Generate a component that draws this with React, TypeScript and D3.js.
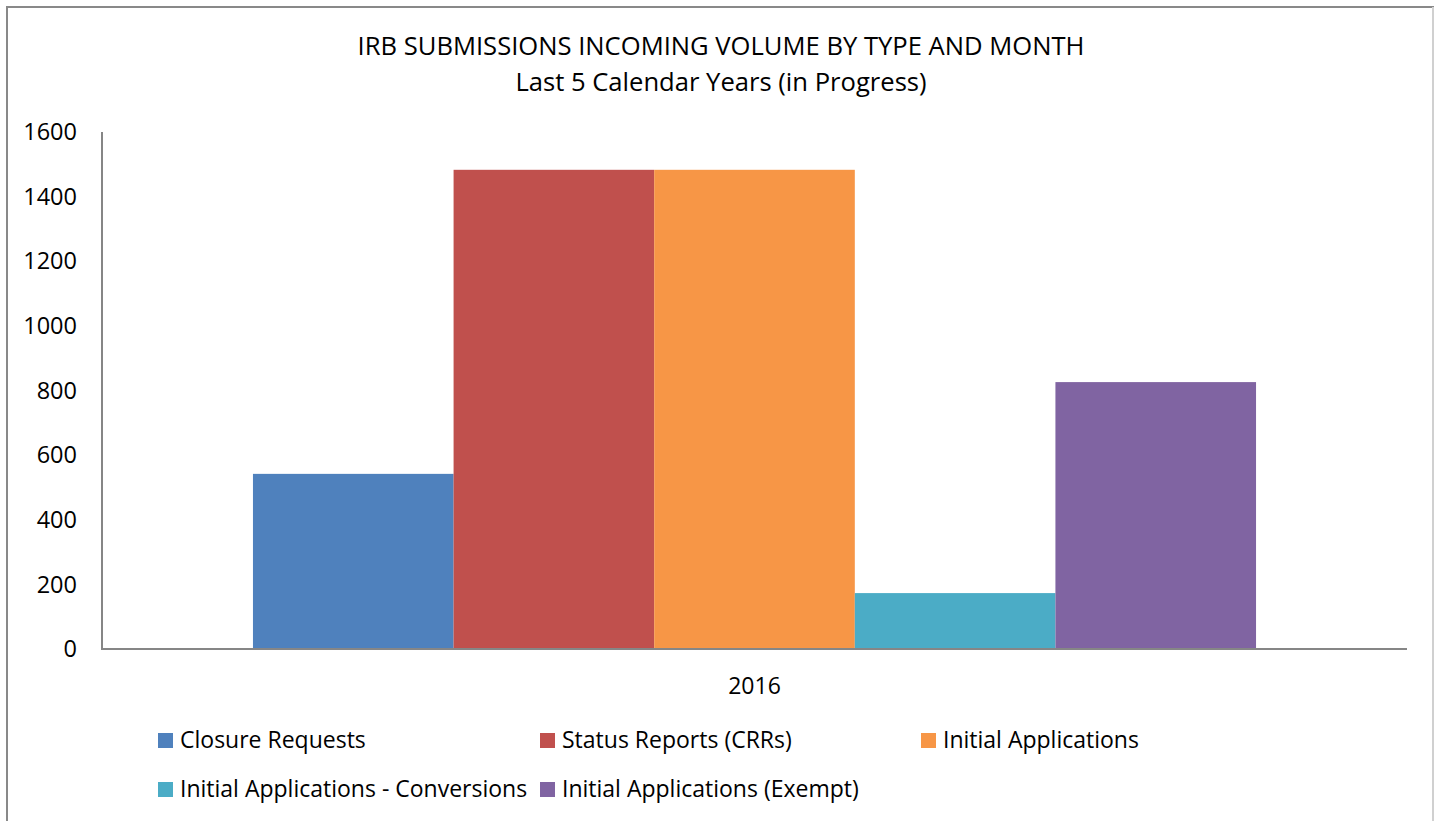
import React from "react";
import * as d3 from "d3";

const categories = ["2016"];
const seriesNames = [
  "Closure Requests",
  "Status Reports (CRRs)",
  "Initial Applications",
  "Initial Applications - Conversions",
  "Initial Applications (Exempt)",
];
const seriesValues = [542, 1483, 1483, 173, 826];
const seriesColors = ["#4F81BD", "#C0504D", "#F79646", "#4BACC6", "#8064A2"];
const yTicks = [0, 200, 400, 600, 800, 1000, 1200, 1400, 1600];
const titleLines = [
  "IRB SUBMISSIONS INCOMING VOLUME BY TYPE AND MONTH",
  "Last 5 Calendar Years (in Progress)",
];

const W = 1435;
const H = 821;
const margin = { top: 132, right: 28, bottom: 172, left: 102 };
const FONT = "'Open Sans', sans-serif";

const App = () => {
  const innerW = W - margin.left - margin.right;
  const innerH = H - margin.top - margin.bottom;

  // category band, with excel-style gap (150%) split on both sides
  const x0 = d3.scaleBand().domain(categories).range([0, innerW]).paddingOuter(0.1505).paddingInner(0);
  const x1 = d3.scaleBand().domain(seriesNames).range([0, x0.bandwidth()]);
  const y = d3.scaleLinear().domain([0, 1600]).range([innerH, 0]);

  const legendCols = [158, 540, 921];
  const legendRows = [748, 797];

  return (
    <svg
      width={W}
      height={H}
      style={{ position: "fixed", left: 0, top: 0, background: "#fff" }}
      fontFamily={FONT}
    >
      <rect x={7} y={7} width={1426} height={820} fill="#fff" stroke="#898989" strokeWidth={2} />
      <line x1={1433} x2={1433} y1={7} y2={H} stroke="#d0d0d0" strokeWidth={2} />

      {titleLines.map((t, i) => (
        <text key={t} x={721} y={55 + i * 36} textAnchor="middle" fontSize={25.6} fill="#000">
          {t}
        </text>
      ))}

      <g transform={`translate(${margin.left},${margin.top})`}>
        {categories.map((c) => (
          <g key={c} transform={`translate(${x0(c)},0)`}>
            {seriesNames.map((s, i) => (
              <rect
                key={s}
                x={x1(s)}
                y={y(seriesValues[i])}
                width={x1.bandwidth()}
                height={innerH - y(seriesValues[i])}
                fill={seriesColors[i]}
              />
            ))}
          </g>
        ))}

        <line x1={0} x2={0} y1={0} y2={innerH} stroke="#868686" strokeWidth={2} />
        <line x1={-1} x2={innerW} y1={innerH} y2={innerH} stroke="#868686" strokeWidth={2} />

        {yTicks.map((t) => (
          <text key={t} x={-25} y={y(t)} dy="0.35em" textAnchor="end" fontSize={23.5} fill="#000">
            {t}
          </text>
        ))}

        {categories.map((c) => (
          <text
            key={c}
            x={(x0(c) ?? 0) + x0.bandwidth() / 2}
            y={innerH + 45}
            textAnchor="middle"
            fontSize={23}
            fill="#000"
          >
            {c}
          </text>
        ))}
      </g>

      {seriesNames.map((s, i) => {
        const cx = legendCols[i % 3];
        const cy = legendRows[Math.floor(i / 3)];
        return (
          <g key={s}>
            <rect x={cx} y={cy - 15} width={15} height={15} fill={seriesColors[i]} />
            <text x={cx + 22} y={cy} fontSize={23} fill="#000">
              {s}
            </text>
          </g>
        );
      })}
    </svg>
  );
};

export default App;
